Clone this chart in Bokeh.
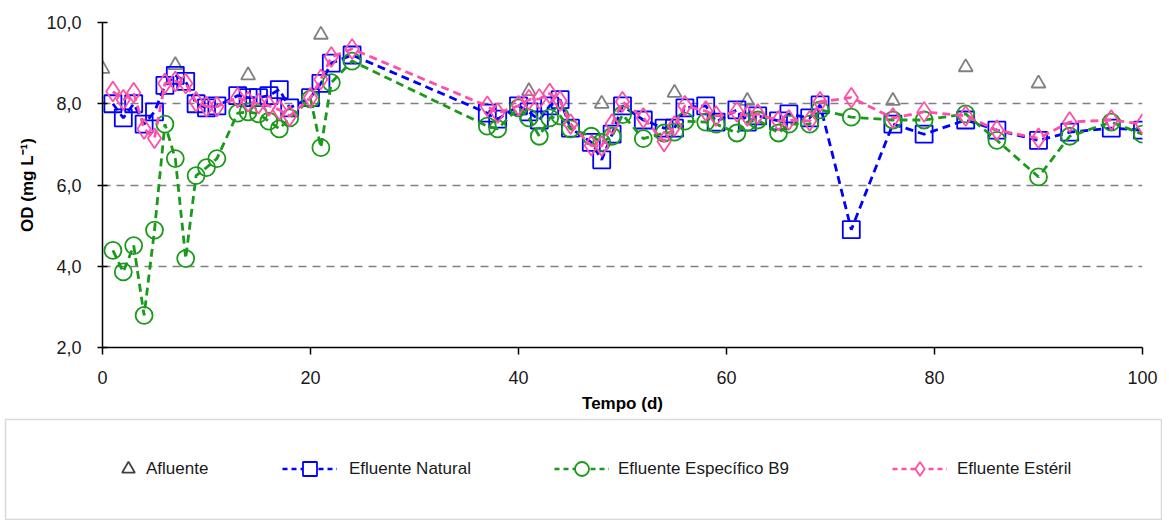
from bokeh.plotting import figure
from bokeh.models import FixedTicker, Legend, LegendItem, Range1d, Column, Row
from bokeh.embed import file_html
from bokeh.resources import INLINE

# ---------------- data ----------------
afluente_dias = [0, 7, 14, 21, 41, 48, 55, 62, 76, 83, 90]
afluente = [8.86, 8.95, 8.7, 9.7, 8.31, 8.0, 8.27, 8.07, 8.07, 8.9, 8.5]

dias = [1, 2, 3, 4, 5, 6, 7, 8, 9, 10, 11, 13, 14, 15, 16, 17, 18, 20, 21, 22, 24,
        37, 38, 40, 41, 42, 43, 44, 45,
        47, 48, 49, 50, 52, 54, 55, 56,
        58, 59, 61, 62, 63, 65, 66, 68, 69,
        72, 76, 79, 83, 86, 90, 93, 97, 100]

efluente_natural = [8.0, 7.65, 8.0, 7.5, 7.8, 8.45, 8.7, 8.55, 8.0, 7.9, 7.95,
                    8.2, 8.15, 8.15, 8.2, 8.35, 7.9, 8.15, 8.5, 9.0, 9.2,
                    7.77, 7.62, 7.95, 7.8, 7.6, 7.95, 8.1, 7.4,
                    7.05, 6.62, 7.25, 7.95, 7.6, 7.4, 7.4, 7.9,
                    7.95, 7.55, 7.85, 7.55, 7.7, 7.58, 7.75, 7.65, 7.97,
                    4.9, 7.5, 7.25, 7.6, 7.35, 7.1, 7.3, 7.4, 7.35]

efluente_especifico = [4.39, 3.86, 4.51, 2.79, 4.89, 7.5, 6.65, 4.19, 6.23, 6.43, 6.65,
                       7.77, 7.8, 7.75, 7.57, 7.38, 7.65, 8.12, 6.92, 8.52, 9.05,
                       7.45, 7.38, 7.9, 7.65, 7.2, 7.65, 7.7, 7.38,
                       7.2, 7.05, 7.2, 7.73, 7.14, 7.28, 7.3, 7.57,
                       7.55, 7.5, 7.28, 7.55, 7.6, 7.28, 7.5, 7.5, 7.85,
                       7.67, 7.6, 7.6, 7.75, 7.1, 6.2, 7.2, 7.55, 7.25]

efluente_esteril = [8.3, 8.1, 8.27, 7.38, 7.15, 8.5, 8.55, 8.5, 8.05, 7.93, 7.93,
                    8.15, 8.05, 8.0, 7.95, 7.85, 7.7, 8.15, 8.6, 9.15, 9.35,
                    7.94, 7.77, 7.95, 8.1, 8.12, 8.25, 8.07, 7.5,
                    6.97, 6.96, 7.5, 8.05, 7.65, 7.07, 7.45, 7.95,
                    7.82, 7.7, 7.8, 7.7, 7.75, 7.58, 7.6, 7.58, 8.05,
                    8.15, 7.65, 7.8, 7.7, 7.35, 7.15, 7.55, 7.6, 7.5]

y_ticks = [2, 4, 6, 8, 10]
y_tick_labels = ["2,0", "4,0", "6,0", "8,0", "10,0"]
x_ticks = [0, 20, 40, 60, 80, 100]
x_tick_labels = ["0", "20", "40", "60", "80", "100"]

series_names = ["Afluente", "Efluente Natural", "Efluente Específico B9", "Efluente Estéril"]

# ---------------- styles ----------------
FONT = "Liberation Sans"
GRAY = "#808080"
BLUE = "#0000ff"
GREEN = "#1a9a1a"
PINK = "#ff4fa7"
DASH = "8 5"

p = figure(width=1169, height=418, x_range=Range1d(0, 100), y_range=Range1d(2, 10),
           output_backend="svg", toolbar_location=None,
           min_border_left=102, min_border_right=27, min_border_top=22, min_border_bottom=71)
p.outline_line_color = None
p.xgrid.visible = False
p.ygrid.grid_line_color = GRAY
p.ygrid.grid_line_dash = "8 6"
p.ygrid.grid_line_width = 1.6
p.ygrid.ticker = FixedTicker(ticks=y_ticks)

p.yaxis.ticker = FixedTicker(ticks=y_ticks)
p.yaxis.major_label_overrides = {t: l for t, l in zip(y_ticks, y_tick_labels)}
p.xaxis.ticker = FixedTicker(ticks=x_ticks)
p.xaxis.major_label_overrides = {t: l for t, l in zip(x_ticks, x_tick_labels)}

for ax in (p.xaxis[0], p.yaxis[0]):
    ax.axis_line_color = "black"
    ax.axis_line_width = 1.5
    ax.major_tick_line_color = "black"
    ax.major_tick_line_width = 1.5
    ax.minor_tick_line_color = None
    ax.major_label_text_font = FONT
    ax.major_label_text_font_size = "18px"
    ax.major_label_text_color = "#1a1a1a"
    ax.axis_label_text_font = FONT
    ax.axis_label_text_font_style = "bold"
    ax.axis_label_text_font_size = "17px"
    ax.axis_label_text_color = "black"

p.yaxis.major_tick_in = 5
p.yaxis.major_tick_out = 5
p.yaxis.major_label_standoff = 16
p.yaxis.axis_label = "OD (mg L⁻¹)"
p.yaxis.axis_label_standoff = 6

p.xaxis.major_tick_in = 0
p.xaxis.major_tick_out = 7
p.xaxis.major_label_standoff = 16
p.xaxis.axis_label = "Tempo (d)"
p.xaxis.axis_label_standoff = 7

styles = [(efluente_natural, BLUE, "square", 17),
          (efluente_especifico, GREEN, "circle", 17),
          (efluente_esteril, PINK, "diamond", 20)]

p.scatter(afluente_dias, afluente, marker="triangle", size=14, line_color=GRAY,
          line_width=1.8, fill_alpha=0)
for vals, col, mk, sz in styles:
    p.line(dias, vals, line_color=col, line_width=2.8, line_dash=DASH)
    p.scatter(dias, vals, marker=mk, size=sz, line_color=col, line_width=1.8, fill_alpha=0)

# ---------------- legend panel (separate canvas, data kept outside its view) ----------------
lg = figure(width=1158, height=102, x_range=Range1d(-20, -10), y_range=Range1d(-20, -10),
            output_backend="svg", toolbar_location=None,
            x_axis_location=None, y_axis_location=None, min_border=1)
lg.xgrid.visible = False
lg.ygrid.visible = False
lg.outline_line_color = "#d9d9d9"
lg.outline_line_width = 1.5

r_af = lg.scatter(afluente_dias, afluente, marker="triangle", line_color="#404040",
                  line_width=1.8, fill_alpha=0)
items = [(series_names[0], [r_af], 107, 32, 2)]
for (vals, col, mk, sz), name, x0, stand in zip(styles, series_names[1:],
                                                 [277, 549, 887], [12, 9, 10]):
    rl = lg.line(dias, vals, line_color=col, line_width=2.6, line_dash="5 4")
    rs = lg.scatter(dias, vals, marker=mk, line_color=col, line_width=1.8, fill_color="white")
    items.append((name, [rl, rs], x0, 55, stand))

for name, rends, x0, gw, stand in items:
    leg = Legend(items=[LegendItem(label=name, renderers=rends)], location=(x0, 33),
                 orientation="horizontal", glyph_width=gw, glyph_height=35,
                 label_height=35, label_standoff=stand, padding=0, margin=0,
                 border_line_alpha=0, background_fill_alpha=0,
                 label_text_font=FONT, label_text_font_size="17px",
                 label_text_color="#1a1a1a")
    lg.add_layout(leg)

lg_row = Row(children=[lg], margin=(0, 0, 0, 4))
layout = Column(children=[p, lg_row], spacing=0)
open("out.html", "w").write(file_html(layout, INLINE))
